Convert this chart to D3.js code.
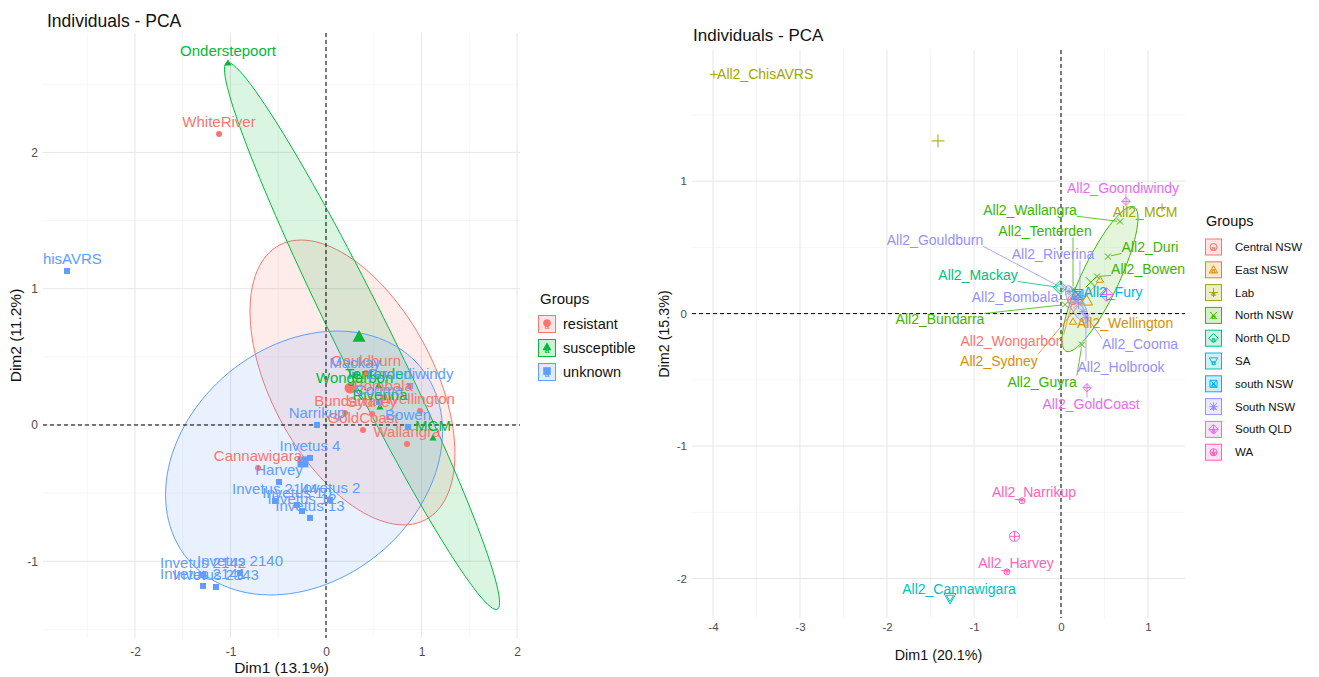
<!DOCTYPE html>
<html><head><meta charset="utf-8">
<script src="https://cdn.jsdelivr.net/npm/d3@7"></script>
<style>body{margin:0;background:#fff;overflow:hidden} text{font-family:"Liberation Sans",Arial,sans-serif;}</style>
</head><body><svg id="c" width="1319" height="677"></svg>
<script>
// ================= LEFT PANEL DATA =================
const leftGroups = ["resistant","susceptible","unknown"];
const leftColors = ["#F8766D","#00BA38","#619CFF"];
const leftNames = ["WhiteRiver","Cannawigara","Wallangra","GoldCoast","Bundarra","Sydney","Wellington","Gouldburn","Bombala",
  "Onderstepoort","MCM","Wongarbon","Riverina","Tenterden",
  "ChisAVRS","Mackay","Goondiwindy","Cooma","Narrikup","Bowen","Invetus 4","Harvey","Invetus 2144","Invetus 10","Invetus 12","Invetus 13","Invetus 2","Invetus 2140","Invetus 2142","Invetus 2143","Invetus 2141"];
const leftGroupOf = ["resistant","resistant","resistant","resistant","resistant","resistant","resistant","resistant","resistant",
  "susceptible","susceptible","susceptible","susceptible","susceptible",
  "unknown","unknown","unknown","unknown","unknown","unknown","unknown","unknown","unknown","unknown","unknown","unknown","unknown","unknown","unknown","unknown","unknown"];
const leftX = [-1.12,-0.712,0.848,0.387,0.199,0.482,0.984,0.419,0.60,
  -1.026,1.12,0.30,0.565,0.55,
  -2.712,0.304,0.88,0.555,-0.094,0.859,-0.168,-0.492,-0.534,-0.304,-0.251,-0.168,0.042,-0.90,-1.288,-1.152,-1.288];
const leftY = [2.135,-0.315,-0.139,-0.037,0.088,0.081,0.103,0.382,0.20,
  2.656,-0.095,0.26,0.132,0.29,
  1.13,0.367,0.286,0.169,0.0,-0.015,-0.242,-0.418,-0.558,-0.587,-0.631,-0.682,-0.55,-1.086,-1.10,-1.189,-1.181];
const leftMeanX = [0.251,0.346,-0.241];
const leftMeanY = [0.271,0.646,-0.271];
// ellipses: centre, half-extent in x & y, correlation
const leftEllCX = [0.277,0.377,-0.23];
const leftEllCY = [0.312,0.653,-0.279];
const leftEllHX = [1.073,1.44,1.45];
const leftEllHY = [1.045,2.007,0.968];
const leftEllRho = [-0.5,-0.975,0.24];
const leftXTicks = [-2,-1,0,1,2];
const leftYTicks = [-1,0,1,2];

// ================= RIGHT PANEL DATA =================
const rightGroups = ["Central NSW","East NSW","Lab","North NSW","North QLD","SA","south NSW","South NSW","South QLD","WA"];
const rightColors = ["#F8766D","#D89000","#A3A500","#39B600","#00BF7D","#00BFC4","#00B0F6","#9590FF","#E76BF3","#FF62BC"];
const rightShapes = [1,2,3,4,5,6,7,8,9,10];
const rightNames = ["All2_ChisAVRS","All2_MCM","All2_Wongarbon","All2_Wellington","All2_Sydney",
  "All2_Wallangra","All2_Duri","All2_Bowen","All2_Tenterden","All2_Bundarra","All2_Guyra",
  "All2_Mackay","All2_Cannawigara","All2_Fury",
  "All2_Gouldburn","All2_Riverina","All2_Bombala","All2_Cooma","All2_Holbrook",
  "All2_Goondiwindy","All2_GoldCoast","All2_Narrikup","All2_Harvey"];
const rightGroupOf = ["Lab","Lab","Central NSW","East NSW","East NSW",
  "North NSW","North NSW","North NSW","North NSW","North NSW","North NSW",
  "North QLD","SA","south NSW",
  "South NSW","South NSW","South NSW","South NSW","South NSW",
  "South QLD","South QLD","WA","WA"];
const rightX = [-3.989,1.161,0.138,0.138,0.448,
  0.678,0.540,0.414,0.138,0.046,0.241,
  -0.011,-1.276,0.195,
  0.092,0.218,0.161,0.253,0.287,
  0.747,0.299,-0.448,-0.621];
const rightY = [1.806,0.801,0.106,-0.060,0.257,
  0.695,0.431,0.280,0.181,0.068,-0.234,
  0.197,-2.147,0.144,
  0.166,0.136,0.106,0.015,-0.030,
  0.847,-0.559,-1.413,-1.950];
// repelled label positions (data units)
const rightLabelX = [-3.40,0.966,-0.563,0.736,-0.713,
  -0.356,1.023,1.0,-0.184,-1.391,-0.218,
  -0.954,-1.172,0.598,
  -1.448,-0.092,-0.529,0.908,0.690,
  0.713,0.345,-0.310,-0.517];
const rightLabelY = [1.806,0.763,-0.204,-0.068,-0.355,
  0.779,0.499,0.333,0.620,-0.045,-0.514,
  0.287,-2.079,0.159,
  0.552,0.446,0.128,-0.234,-0.401,
  0.945,-0.680,-1.345,-1.882];
const rightEllGroup = ["North NSW","South NSW"];
const rightEllCX = [0.448,0.18];
const rightEllCY = [0.261,0.07];
const rightEllHX = [0.437,0.13];
const rightEllHY = [0.548,0.14];
const rightEllRho = [0.84,-0.75];
const rightXTicks = [-4,-3,-2,-1,0,1];
const rightYTicks = [-2,-1,0,1];

// ================= DRAWING =================
const svg = d3.select("#c");
svg.append("rect").attr("width",1319).attr("height",677).attr("fill","#fff");

function shapePath(s, r){
  const k = r;
  switch(s){
    case 19: return `M${k},0A${k},${k} 0 1 1 ${-k},0A${k},${k} 0 1 1 ${k},0Z`;
    case 17: { const h=k*1.25; return `M0,${-h}L${h*0.95},${h*0.7}L${-h*0.95},${h*0.7}Z`; }
    case 15: return `M${-k},${-k}H${k}V${k}H${-k}Z`;
    case 1: return `M${k},0A${k},${k} 0 1 1 ${-k},0A${k},${k} 0 1 1 ${k},0Z`;
    case 2: { const h=k*1.2; return `M0,${-h}L${h},${h*0.75}L${-h},${h*0.75}Z`; }
    case 3: { const h=k*1.3; return `M${-h},0H${h}M0,${-h}V${h}`; }
    case 4: return `M${-k},${-k}L${k},${k}M${-k},${k}L${k},${-k}`;
    case 5: { const h=k*1.35; return `M0,${-h}L${h},0L0,${h}L${-h},0Z`; }
    case 6: { const h=k*1.2; return `M0,${h}L${h},${-h*0.75}L${-h},${-h*0.75}Z`; }
    case 7: return `M${-k},${-k}H${k}V${k}H${-k}ZM${-k},${-k}L${k},${k}M${-k},${k}L${k},${-k}`;
    case 8: { const h=k*1.2; return `M${-h},0H${h}M0,${-h}V${h}M${-k},${-k}L${k},${k}M${-k},${k}L${k},${-k}`; }
    case 9: { const h=k*1.35; return `M0,${-h}L${h},0L0,${h}L${-h},0ZM${-h},0H${h}M0,${-h}V${h}`; }
    case 10: return `M${k},0A${k},${k} 0 1 1 ${-k},0A${k},${k} 0 1 1 ${k},0ZM${-k},0H${k}M0,${-k}V${k}`;
  }
}

function ellipsePath(x, y, cx, cy, hx, hy, rho){
  const pts = d3.range(0, 361, 3).map(a=>{
    const t = a*Math.PI/180;
    return [x(cx + hx*Math.cos(t)), y(cy + hy*(rho*Math.cos(t) + Math.sqrt(1-rho*rho)*Math.sin(t)))];
  });
  return d3.line()(pts)+"Z";
}

function drawFrame(p){
  const g = svg.append("g");
  const x = d3.scaleLinear().domain(p.xd).range([p.left,p.right]);
  const y = d3.scaleLinear().domain(p.yd).range([p.bottom,p.top]);
  const xMinor = d3.range(Math.ceil(p.xd[0]*2)/2, p.xd[1], 0.5).filter(v=>Math.abs(v%1)>0.01);
  const yMinor = d3.range(Math.ceil(p.yd[0]*2)/2, p.yd[1], 0.5).filter(v=>Math.abs(v%1)>0.01);
  g.selectAll(".xm").data(xMinor).join("line").attr("x1",d=>x(d)).attr("x2",d=>x(d)).attr("y1",p.top).attr("y2",p.bottom).attr("stroke","#f0f0f0").attr("stroke-width",0.6);
  g.selectAll(".ym").data(yMinor).join("line").attr("y1",d=>y(d)).attr("y2",d=>y(d)).attr("x1",p.left).attr("x2",p.right).attr("stroke","#f0f0f0").attr("stroke-width",0.6);
  g.selectAll(".xM").data(p.xt).join("line").attr("x1",d=>x(d)).attr("x2",d=>x(d)).attr("y1",p.top).attr("y2",p.bottom).attr("stroke","#e6e6e6").attr("stroke-width",1);
  g.selectAll(".yM").data(p.yt).join("line").attr("y1",d=>y(d)).attr("y2",d=>y(d)).attr("x1",p.left).attr("x2",p.right).attr("stroke","#e6e6e6").attr("stroke-width",1);
  const ax = g.append("g").attr("transform",`translate(0,${p.bottom})`).call(d3.axisBottom(x).tickValues(p.xt).tickSize(0).tickPadding(p.xpad).tickFormat(d3.format("d")));
  const ay = g.append("g").attr("transform",`translate(${p.left},0)`).call(d3.axisLeft(y).tickValues(p.yt).tickSize(0).tickPadding(5).tickFormat(d3.format("d")));
  [ax,ay].forEach(a=>{ a.select(".domain").remove(); a.selectAll("text").attr("fill","#4D4D4D").attr("font-size",p.tickFs).attr("font-family",'"Liberation Sans",Arial,sans-serif'); });
  ax.selectAll("text").text(d=>d<0?"-"+Math.abs(d):d);
  ay.selectAll("text").text(d=>d<0?"-"+Math.abs(d):d);
  svg.append("text").attr("x",p.titleX).attr("y",p.titleY).attr("font-size",p.titleFs).attr("fill","#111").text("Individuals - PCA");
  svg.append("text").attr("x",(p.left+p.right)/2).attr("y",p.xtY).attr("text-anchor","middle").attr("font-size",p.axFs).attr("fill","#111").text(p.xlab);
  svg.append("text").attr("transform",`translate(${p.ytX},${(p.top+p.bottom)/2}) rotate(-90)`).attr("text-anchor","middle").attr("font-size",p.axFs).attr("fill","#111").text(p.ylab);
  return {x,y};
}

function dashed(x,y,p,layer){
  layer.append("line").attr("x1",x(0)).attr("x2",x(0)).attr("y1",p.top).attr("y2",p.bottom).attr("stroke","#000").attr("stroke-width",1).attr("stroke-dasharray","4,3");
  layer.append("line").attr("y1",y(0)).attr("y2",y(0)).attr("x1",p.left).attr("x2",p.right).attr("stroke","#000").attr("stroke-width",1).attr("stroke-dasharray","4,3");
}

// ---------- LEFT ----------
const LP = {left:43,right:520,top:33,bottom:638,xd:[-2.963,2.031],yd:[-1.563,2.876],xt:leftXTicks,yt:leftYTicks,
  xpad:9,titleX:47,titleY:27,titleFs:17.5,axFs:15.5,tickFs:12,xlab:"Dim1 (13.1%)",ylab:"Dim2 (11.2%)",xtY:673,ytX:21};
{
  const {x,y} = drawFrame(LP);
  svg.append("clipPath").attr("id","clipL").append("rect").attr("x",LP.left).attr("y",LP.top).attr("width",LP.right-LP.left).attr("height",LP.bottom-LP.top);
  const L = svg.append("g").attr("clip-path","url(#clipL)");
  leftGroups.forEach((gname,i)=>{
    L.append("path").attr("d",ellipsePath(x,y,leftEllCX[i],leftEllCY[i],leftEllHX[i],leftEllHY[i],leftEllRho[i]))
      .attr("fill",leftColors[i]).attr("fill-opacity",0.14).attr("stroke",leftColors[i]).attr("stroke-width",1);
  });
  dashed(x,y,LP,L);
  const shp = [19,17,15];
  leftNames.forEach((n,i)=>{
    const gi = leftGroups.indexOf(leftGroupOf[i]);
    L.append("path").attr("transform",`translate(${x(leftX[i])},${y(leftY[i])})`).attr("d",shapePath(shp[gi],3)).attr("fill",leftColors[gi]);
  });
  leftGroups.forEach((gname,i)=>{
    L.append("path").attr("transform",`translate(${x(leftMeanX[i])},${y(leftMeanY[i])})`).attr("d",shapePath(shp[i],5.5)).attr("fill",leftColors[i]);
  });
  leftNames.forEach((n,i)=>{
    const gi = leftGroups.indexOf(leftGroupOf[i]);
    L.append("text").attr("x",x(leftX[i])).attr("y",y(leftY[i])-12).attr("dy","0.35em").attr("text-anchor","middle")
      .attr("font-size",15).attr("fill",leftColors[gi]).text(n);
  });
  const lg = svg.append("g").attr("transform","translate(538,0)");
  lg.append("text").attr("x",2).attr("y",304).attr("font-size",15).attr("fill","#111").text("Groups");
  leftGroups.forEach((gname,i)=>{
    const cy = 324 + i*24;
    lg.append("rect").attr("x",0.5).attr("y",cy-8.5).attr("width",17).attr("height",17).attr("fill",leftColors[i]).attr("fill-opacity",0.2).attr("stroke",leftColors[i]).attr("stroke-width",1);
    lg.append("path").attr("transform",`translate(9,${cy-1})`).attr("d",shapePath(shp[i],3.8)).attr("fill",leftColors[i]);
    lg.append("text").attr("x",9).attr("y",cy+5).attr("text-anchor","middle").attr("font-size",8).attr("font-weight","bold").attr("fill",leftColors[i]).text("a");
    lg.append("text").attr("x",25).attr("y",cy).attr("dy","0.35em").attr("font-size",14.5).attr("fill","#111").text(gname);
  });
}

// ---------- RIGHT ----------
const RP = {left:692,right:1185,top:50,bottom:618,xd:[-4.241,1.425],yd:[-2.298,1.99],xt:rightXTicks,yt:rightYTicks,
  xpad:5,titleX:693,titleY:41,titleFs:17,axFs:14.3,tickFs:11.5,xlab:"Dim1 (20.1%)",ylab:"Dim2 (15.3%)",xtY:660,ytX:669};
{
  const {x,y} = drawFrame(RP);
  svg.append("clipPath").attr("id","clipR").append("rect").attr("x",RP.left).attr("y",RP.top).attr("width",RP.right-RP.left).attr("height",RP.bottom-RP.top);
  const R = svg.append("g").attr("clip-path","url(#clipR)");
  rightEllGroup.forEach((gname,i)=>{
    const gi = rightGroups.indexOf(gname);
    R.append("path").attr("d",ellipsePath(x,y,rightEllCX[i],rightEllCY[i],rightEllHX[i],rightEllHY[i],rightEllRho[i]))
      .attr("fill",rightColors[gi]).attr("fill-opacity",0.14).attr("stroke",rightColors[gi]).attr("stroke-width",1);
  });
  dashed(x,y,RP,R);
  const segLayer = R.append("g"), ptLayer = R.append("g"), txtLayer = R.append("g");
  rightNames.forEach((n,i)=>{
    const gi = rightGroups.indexOf(rightGroupOf[i]);
    const t = txtLayer.append("text").attr("x",x(rightLabelX[i])).attr("y",y(rightLabelY[i])).attr("dy","0.35em").attr("text-anchor","middle")
      .attr("font-size",14).attr("fill",rightColors[gi]).text(n);
    const b = t.node().getBBox();
    const px = x(rightX[i]), py = y(rightY[i]);
    const nx = Math.max(b.x, Math.min(px, b.x+b.width));
    const ny = Math.max(b.y+2, Math.min(py, b.y+b.height-2));
    const d = Math.hypot(px-nx, py-ny);
    if(d>7){
      const f = (d-3)/d;
      segLayer.append("line").attr("x1",nx).attr("y1",ny).attr("x2",nx+(px-nx)*f).attr("y2",ny+(py-ny)*f)
        .attr("stroke",rightColors[gi]).attr("stroke-width",0.8);
    }
    ptLayer.append("path").attr("transform",`translate(${px},${py})`).attr("d",shapePath(rightShapes[gi],3))
      .attr("fill","none").attr("stroke",rightColors[gi]).attr("stroke-width",1);
  });
  rightGroups.forEach((gname,gi)=>{
    const idx = rightGroupOf.map((g,i)=>g===gname?i:-1).filter(i=>i>=0);
    const mx = d3.mean(idx,i=>rightX[i]), my = d3.mean(idx,i=>rightY[i]);
    ptLayer.append("path").attr("transform",`translate(${x(mx)},${y(my)})`).attr("d",shapePath(rightShapes[gi],5))
      .attr("fill","none").attr("stroke",rightColors[gi]).attr("stroke-width",1);
  });
  const lg = svg.append("g").attr("transform","translate(1205,0)");
  lg.append("text").attr("x",1).attr("y",226).attr("font-size",14.5).attr("fill","#111").text("Groups");
  rightGroups.forEach((gname,i)=>{
    const cy = 247 + i*22.8;
    lg.append("rect").attr("x",0.5).attr("y",cy-8).attr("width",16).attr("height",16).attr("fill",rightColors[i]).attr("fill-opacity",0.2).attr("stroke",rightColors[i]).attr("stroke-width",1);
    lg.append("path").attr("transform",`translate(8.5,${cy})`).attr("d",shapePath(rightShapes[i],3.5)).attr("fill","none").attr("stroke",rightColors[i]).attr("stroke-width",1);
    lg.append("text").attr("x",8.5).attr("y",cy+3.5).attr("text-anchor","middle").attr("font-size",8).attr("font-weight","bold").attr("fill",rightColors[i]).text("a");
    lg.append("text").attr("x",30).attr("y",cy).attr("dy","0.35em").attr("font-size",11.5).attr("fill","#111").text(gname);
  });
}
</script></body></html>
